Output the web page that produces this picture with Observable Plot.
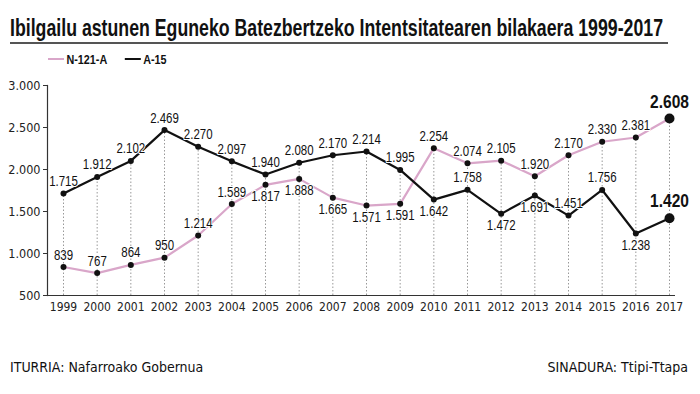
<!DOCTYPE html>
<html>
<head>
<meta charset="utf-8">
<script src="https://cdn.jsdelivr.net/npm/d3@7"></script>
<script src="https://cdn.jsdelivr.net/npm/@observablehq/plot@0.6"></script>
<style>
  body { margin: 0; background: #fff; font-family: "DejaVu Sans Condensed", "Liberation Sans", sans-serif; }
  #wrap { position: relative; width: 700px; height: 394px; overflow: hidden; }
  #title { position: absolute; left: 10px; top: 15px; font-family: "Liberation Sans", Arial, sans-serif; font-size: 23px; font-weight: bold; color: #111; white-space: nowrap; transform-origin: left top; }
  #rule { position: absolute; left: 10px; top: 42px; width: 658px; height: 0; border-top: 2px solid #555; }
  #legend { position: absolute; left: 48px; top: 52px; font-family: "Liberation Sans", Arial, sans-serif; font-size: 13.5px; font-weight: bold; color: #111; white-space: nowrap; transform-origin: left top; }
  #legend span.sw { display: inline-block; width: 20px; height: 2px; vertical-align: middle; margin-right: 3px; position: relative; top: -1px; }
  #legend span.item { margin-right: 22px; }
  #chart { position: absolute; left: 0; top: 70px; }
  #src { position: absolute; left: 10px; top: 359px; font-size: 14px; color: #111; }
  #sig { position: absolute; right: 12px; top: 359px; font-size: 14px; color: #111; }
</style>
</head>
<body>
<div id="wrap">
  <div id="title">Ibilgailu astunen Eguneko Batezbertzeko Intentsitatearen bilakaera 1999-2017</div>
  <div id="rule"></div>
  <div id="legend"></div>
  <div id="chart"></div>
  <div id="src">ITURRIA: Nafarroako Gobernua</div>
  <div id="sig">SINADURA: Ttipi-Ttapa</div>
</div>
<script>
const years = [1999,2000,2001,2002,2003,2004,2005,2006,2007,2008,2009,2010,2011,2012,2013,2014,2015,2016,2017];
const n121a = [839,767,864,950,1214,1589,1817,1888,1665,1571,1591,2254,2074,2105,1920,2170,2330,2381,2608];
const a15 = [1715,1912,2102,2469,2270,2097,1940,2080,2170,2214,1995,1642,1758,1472,1691,1451,1756,1238,1420];
const n121aLabelSide = ["above","above","above","above","above","above","below","below","below","below","below","above","above","above","above","above","above","above","above"];
const a15LabelSide = ["above","above","above","above","above","above","above","above","above","above","above","below","above","below","below","above","above","below","above"];
const yTicks = [500,1000,1500,2000,2500,3000];
const seriesNames = ["N-121-A","A-15"];
const seriesColors = ["#d9a6c9","#111111"];

const fmt = d3.formatLocale({decimal: ",", thousands: ".", grouping: [3], currency: ["", "€"]}).format(",d");

const rows = [];
years.forEach((y, i) => {
  rows.push({series: seriesNames[0], year: y, value: n121a[i], side: n121aLabelSide[i], last: i === years.length - 1});
  rows.push({series: seriesNames[1], year: y, value: a15[i], side: a15LabelSide[i], last: i === years.length - 1});
});
const guides = years.map((y, i) => ({year: y, top: Math.max(n121a[i], a15[i])}));

// legend
const leg = document.getElementById("legend");
seriesNames.forEach((n, i) => {
  const s = document.createElement("span");
  s.className = "item";
  s.innerHTML = `<span class="sw" style="background:${seriesColors[i]}"></span>${n}`;
  leg.appendChild(s);
});

function fitWidth(el, w) {
  const cur = el.getBoundingClientRect().width;
  el.style.transform = `scaleX(${w / cur})`;
}
fitWidth(document.getElementById("title"), 653);
leg.style.transform = "scaleX(0.8)";

const labelFont = '"Liberation Sans", Arial, sans-serif';
const plot = Plot.plot({
  width: 700,
  height: 250,
  marginLeft: 47,
  marginRight: 25,
  marginTop: 15,
  marginBottom: 25,
  style: {fontFamily: '"DejaVu Sans Condensed", sans-serif', fontSize: "12px", color: "#222", background: "transparent"},
  x: {domain: [1999, 2017], range: [63, 669]},
  y: {domain: [500, 3000]},
  color: {domain: seriesNames, range: seriesColors},
  marks: [
    Plot.ruleX(guides, {x: "year", y1: 500, y2: "top", stroke: "#999", strokeWidth: 1, strokeDasharray: "1.5,2"}),
    Plot.axisY({ticks: yTicks, tickFormat: fmt, tickSize: 4, tickPadding: 3, stroke: "#333", fontSize: 12.5, label: null}),
    Plot.axisX({ticks: years, tickFormat: d => String(d), tickSize: 0, tickPadding: 7, fontSize: 12, label: null}),
    Plot.frame({anchor: "left", stroke: "#333", strokeWidth: 1.2}),
    Plot.ruleY([500], {stroke: "#333", strokeWidth: 1.2}),
    Plot.line(rows, {x: "year", y: "value", z: "series", stroke: "series", strokeWidth: 2.2}),
    Plot.dot(rows.filter(d => !d.last), {x: "year", y: "value", r: 3, fill: "#111"}),
    Plot.dot(rows.filter(d => d.last), {x: "year", y: "value", r: 5, fill: "#111"}),
    Plot.text(rows.filter(d => !d.last && d.side === "above"), {x: "year", y: "value", text: d => fmt(d.value), dy: -12, fontFamily: labelFont, fontSize: 14, fill: "#111", stroke: "#fff", strokeWidth: 2}),
    Plot.text(rows.filter(d => !d.last && d.side === "below"), {x: "year", y: "value", text: d => fmt(d.value), dy: 12, fontFamily: labelFont, fontSize: 14, fill: "#111", stroke: "#fff", strokeWidth: 2}),
    Plot.text(rows.filter(d => d.last), {x: "year", y: "value", text: d => fmt(d.value), dy: -17, fontFamily: labelFont, fontSize: 19, fontWeight: "bold", fill: "#111", stroke: "#fff", strokeWidth: 2})
  ]
});
document.getElementById("chart").appendChild(plot);

// condense the value labels horizontally (narrow-font look)
plot.querySelectorAll('g[aria-label="text"] text').forEach(t => {
  const b = t.getBBox();
  const cx = b.x + b.width / 2;
  const prev = t.getAttribute("transform") || "";
  t.setAttribute("transform", `${prev} translate(${cx},0) scale(0.82,1) translate(${-cx},0)`);
});
</script>
</body>
</html>
